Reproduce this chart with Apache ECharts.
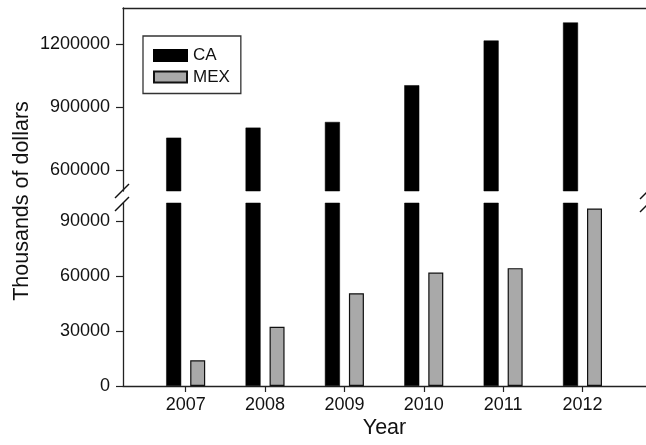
<!DOCTYPE html>
<html>
<head>
<meta charset="utf-8">
<script src="https://cdn.jsdelivr.net/npm/echarts@6/dist/echarts.min.js"></script>
<style>
  html, body { margin: 0; padding: 0; background: #fff; }
  #chart { width: 646px; height: 445px; }
</style>
</head>
<body>
<div id="chart"></div>
<script>
// Annual values, thousands of dollars
const years = [2007, 2008, 2009, 2010, 2011, 2012];
const caValues = [754000, 802000, 829000, 1004000, 1217000, 1303000];
const mexValues = [14100, 32400, 50700, 62000, 64400, 97000];

// Tick labels for the two segments of the broken value axis
const upperTicks = [600000, 900000, 1200000];
const lowerTicks = [0, 30000, 60000, 90000];

const FONT = 'Liberation Sans, Arial, sans-serif';
const AXIS_COLOR = '#222';

const pairs = vals => years.map((y, i) => [y, vals[i]]);

const chart = echarts.init(document.getElementById('chart'), null, { renderer: 'canvas' });

const xCommon = {
  type: 'value',
  min: 2006.21,
  max: 2012.8,
  splitLine: { show: false },
  axisLine: { show: true, onZero: false, lineStyle: { color: AXIS_COLOR, width: 1.3 } }
};

const yCommon = {
  type: 'value',
  splitLine: { show: false },
  axisLine: { show: true, onZero: false, lineStyle: { color: AXIS_COLOR, width: 1.3 } },
  axisTick: { show: true, length: 7, lineStyle: { color: AXIS_COLOR, width: 1.2 } },
  axisLabel: { color: '#111', fontSize: 18, fontFamily: FONT, margin: 13, formatter: v => String(v) }
};

const barBase = { type: 'bar', barWidth: 15, barGap: '60%', clip: true, animation: false };
const caStyle = { color: '#000', borderColor: '#000', borderWidth: 0.5 };
const mexStyle = { color: '#a9a9a9', borderColor: '#111', borderWidth: 1.2 };

chart.setOption({
  backgroundColor: '#fff',
  animation: false,
  textStyle: { fontFamily: FONT },
  grid: [
    { left: 123, top: 8, width: 525, height: 183 },
    { left: 123, top: 203, width: 525, height: 183 }
  ],
  legend: {
    data: ['CA', 'MEX'],
    orient: 'vertical',
    left: 143,
    top: 36,
    padding: [11, 11, 8, 10],
    itemWidth: 33,
    itemHeight: 11,
    itemGap: 4.5,
    borderColor: '#333',
    borderWidth: 1.3,
    icon: 'rect',
    textStyle: { fontSize: 17, color: '#111', fontFamily: FONT, padding: [0, 0, 0, 1] }
  },
  xAxis: [
    Object.assign({}, xCommon, {
      gridIndex: 0,
      position: 'top',
      axisTick: { show: false },
      axisLabel: { show: false }
    }),
    Object.assign({}, xCommon, {
      gridIndex: 1,
      position: 'bottom',
      name: 'Year',
      nameLocation: 'middle',
      nameGap: 31,
      nameTextStyle: { fontSize: 21.5, color: '#111', fontFamily: FONT },
      axisTick: { show: true, length: 6, customValues: years, lineStyle: { color: AXIS_COLOR, width: 1.2 } },
      axisLabel: { show: true, customValues: years, fontSize: 18, color: '#111', fontFamily: FONT, margin: 10, formatter: v => String(v) }
    })
  ],
  yAxis: [
    Object.assign({}, yCommon, {
      gridIndex: 0,
      min: 500000,
      max: 1372000,
      axisTick: Object.assign({}, yCommon.axisTick, { customValues: upperTicks }),
      axisLabel: Object.assign({}, yCommon.axisLabel, { customValues: upperTicks })
    }),
    Object.assign({}, yCommon, {
      gridIndex: 1,
      min: 0,
      max: 100000,
      axisTick: Object.assign({}, yCommon.axisTick, { customValues: lowerTicks }),
      axisLabel: Object.assign({}, yCommon.axisLabel, { customValues: lowerTicks })
    })
  ],
  series: [
    Object.assign({}, barBase, { name: 'CA', xAxisIndex: 0, yAxisIndex: 0, data: pairs(caValues), itemStyle: caStyle }),
    Object.assign({}, barBase, { name: 'MEX', xAxisIndex: 0, yAxisIndex: 0, data: pairs(mexValues), itemStyle: mexStyle }),
    Object.assign({}, barBase, { name: 'CA', xAxisIndex: 1, yAxisIndex: 1, data: pairs(caValues), itemStyle: caStyle }),
    Object.assign({}, barBase, { name: 'MEX', xAxisIndex: 1, yAxisIndex: 1, data: pairs(mexValues), itemStyle: mexStyle })
  ],
  graphic: [
    {
      type: 'text',
      x: 22,
      y: 201,
      rotation: Math.PI / 2,
      style: {
        text: 'Thousands of dollars',
        fontSize: 21.5,
        fontFamily: FONT,
        fill: '#111',
        align: 'center',
        verticalAlign: 'middle'
      }
    },
    // axis-break slashes, left and right edges
    { type: 'line', shape: { x1: 115, y1: 198, x2: 129, y2: 184 }, style: { stroke: '#111', lineWidth: 1.4 } },
    { type: 'line', shape: { x1: 115, y1: 211, x2: 129, y2: 197 }, style: { stroke: '#111', lineWidth: 1.4 } },
    { type: 'line', shape: { x1: 640, y1: 199, x2: 654, y2: 185 }, style: { stroke: '#111', lineWidth: 1.4 } },
    { type: 'line', shape: { x1: 640, y1: 212, x2: 654, y2: 198 }, style: { stroke: '#111', lineWidth: 1.4 } }
  ]
});
</script>
</body>
</html>
